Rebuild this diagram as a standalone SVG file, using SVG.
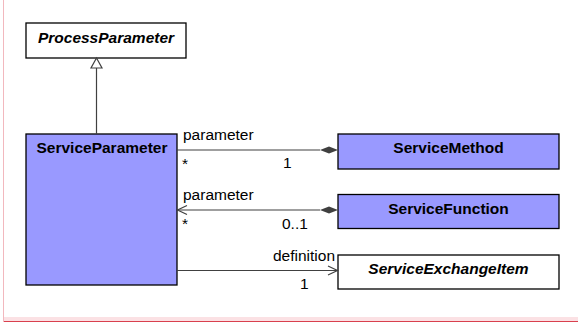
<svg xmlns="http://www.w3.org/2000/svg" width="578" height="323" viewBox="0 0 578 323">
<style>
.box{stroke:#000;stroke-width:1.3}
.blue{fill:#9999ff}
.white{fill:#fff}
.name{font-family:"Liberation Sans",Arial,sans-serif;font-size:15.5px;font-weight:bold;text-anchor:middle;fill:#000}
.it{font-style:italic}
.lbl{font-family:"Liberation Sans",Arial,sans-serif;font-size:15.5px;fill:#000}
.ln{stroke:#404040;stroke-width:1.2;fill:none}
</style>
<rect x="0" y="0" width="578" height="323" fill="#fff"/>
<g id="frame">
<line x1="3.5" y1="0" x2="3.5" y2="322" stroke="#f2b8be" stroke-width="1"/>
<rect x="4" y="317" width="574" height="4" fill="#fbe1e4"/>
<line x1="4" y1="321.5" x2="578" y2="321.5" stroke="#d9404e" stroke-width="1.2"/>
</g>
<g id="ProcessParameter">
<rect class="box white" x="26" y="23" width="160" height="35"/>
<text class="name it" x="106" y="42.5">ProcessParameter</text>
</g>
<g id="ServiceParameter">
<rect class="box blue" x="26" y="134" width="151" height="151"/>
<text class="name" x="102" y="153">ServiceParameter</text>
</g>
<g id="ServiceMethod">
<rect class="box blue" x="338" y="134" width="221" height="35"/>
<text class="name" x="448.5" y="153">ServiceMethod</text>
</g>
<g id="ServiceFunction">
<rect class="box blue" x="338" y="194.5" width="221" height="34"/>
<text class="name" x="448.5" y="213.5">ServiceFunction</text>
</g>
<g id="ServiceExchangeItem">
<rect class="box white" x="338" y="255" width="221" height="34"/>
<text class="name it" x="448.5" y="273.5">ServiceExchangeItem</text>
</g>
<g id="connectors">
<line class="ln" x1="96.5" y1="68" x2="96.5" y2="134"/>
<polygon points="96.5,58 102,68 91,68" fill="#fff" stroke="#404040" stroke-width="1.2"/>
<line class="ln" x1="177" y1="150" x2="320" y2="150"/>
<polygon points="320,150 329,146.5 338,150 329,153.5" fill="#404040"/>
<line class="ln" x1="177" y1="210" x2="320" y2="210"/>
<polygon points="320,210 329,206.5 338,210 329,213.5" fill="#404040"/>
<polyline class="ln" points="187,205.5 177.5,210 187,214.5"/>
<line class="ln" x1="177" y1="270.5" x2="337" y2="270.5"/>
<polyline class="ln" points="328,266 337.5,270.5 328,275"/>
</g>
<g id="labels">
<text class="lbl" x="183" y="139.5">parameter</text>
<text class="lbl" x="182" y="169">*</text>
<text class="lbl" x="283" y="168">1</text>
<text class="lbl" x="183" y="199.5">parameter</text>
<text class="lbl" x="182" y="229">*</text>
<text class="lbl" x="282" y="229">0..1</text>
<text class="lbl" x="273" y="261">definition</text>
<text class="lbl" x="300" y="288.5">1</text>
</g>
</svg>
